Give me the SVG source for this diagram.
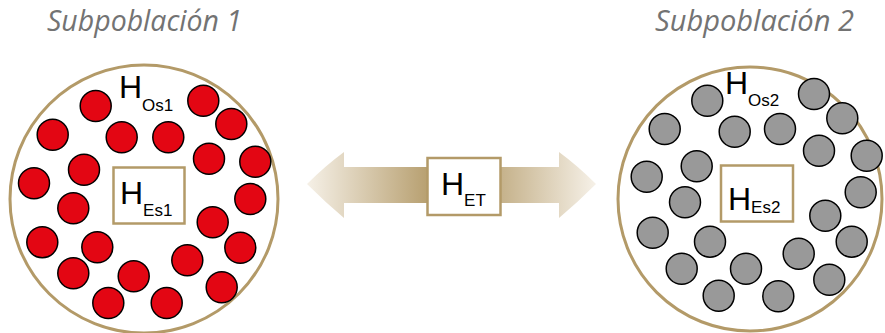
<svg xmlns="http://www.w3.org/2000/svg" width="885" height="333" viewBox="0 0 885 333">
<style>
.pop{fill:#fff;stroke:#b39a68;stroke-width:3}
.box{fill:#fff;stroke:#b39a68;stroke-width:2.5}
.r{fill:#e30613;stroke:#000;stroke-width:1.5}
.g{fill:#999;stroke:#000;stroke-width:1.5}
.t{font-family:"Open Sans","Liberation Sans",sans-serif;font-style:italic;font-size:29px;fill:#737373}
.H{font-family:"Liberation Sans",Arial,sans-serif;font-size:32px;fill:#000}
.s{font-family:"Liberation Sans",Arial,sans-serif;font-size:17px;fill:#000}
</style>
<defs>
<linearGradient id="ag" x1="306" y1="0" x2="596" y2="0" gradientUnits="userSpaceOnUse">
<stop offset="0" stop-color="#f6f1e8"/>
<stop offset="0.45" stop-color="#b39a68"/>
<stop offset="0.55" stop-color="#b39a68"/>
<stop offset="1" stop-color="#f6f1e8"/>
</linearGradient>
</defs>
<text class="t" x="47" y="31" textLength="195" lengthAdjust="spacingAndGlyphs">Subpoblación 1</text>
<text class="t" x="655" y="31" textLength="199" lengthAdjust="spacingAndGlyphs">Subpoblación 2</text>

<g id="connectors">
<path d="M344,152 L344,167 L559,167 L559,152 Q578,166 596,184 Q578,202 559,218 L559,203 L344,203 L344,218 Q325,202 307,184 Q325,166 344,152 Z" fill="url(#ag)"/>
</g>

<g id="subpoblacion1">
<circle class="pop" cx="144" cy="199" r="134"/>
<circle class="r" cx="95.7" cy="106" r="15.5"/>
<circle class="r" cx="52.7" cy="134.7" r="15.5"/>
<circle class="r" cx="121.7" cy="137.3" r="15.5"/>
<circle class="r" cx="168.3" cy="137.3" r="15.5"/>
<circle class="r" cx="203.3" cy="100.7" r="15.5"/>
<circle class="r" cx="231.3" cy="124" r="15.5"/>
<circle class="r" cx="209" cy="158.7" r="15.5"/>
<circle class="r" cx="255.3" cy="161.7" r="15.5"/>
<circle class="r" cx="84" cy="169.7" r="15.5"/>
<circle class="r" cx="34" cy="183.3" r="15.5"/>
<circle class="r" cx="73.3" cy="208.3" r="15.5"/>
<circle class="r" cx="250.3" cy="199" r="15.5"/>
<circle class="r" cx="212.7" cy="222.3" r="15.5"/>
<circle class="r" cx="42.3" cy="242.3" r="15.5"/>
<circle class="r" cx="97.3" cy="247.3" r="15.5"/>
<circle class="r" cx="240.3" cy="247.7" r="15.5"/>
<circle class="r" cx="187.3" cy="260.3" r="15.5"/>
<circle class="r" cx="73.3" cy="273.3" r="15.5"/>
<circle class="r" cx="133.7" cy="276.3" r="15.5"/>
<circle class="r" cx="221.7" cy="287.3" r="15.5"/>
<circle class="r" cx="108.3" cy="303" r="15.5"/>
<circle class="r" cx="166.7" cy="303" r="15.5"/>
<text x="119" y="98"><tspan class="H">H</tspan><tspan class="s" dy="12.5">Os1</tspan></text>
</g>
<g id="HEs1">
<rect class="box" x="113.5" y="167.5" width="71" height="56"/>
<text x="120" y="204"><tspan class="H">H</tspan><tspan class="s" dy="12">Es1</tspan></text>
</g>

<g id="HET">
<rect class="box" x="427.5" y="158" width="73" height="57"/>
<text x="441" y="195"><tspan class="H">H</tspan><tspan class="s" dy="10.5">ET</tspan></text>
</g>

<g id="subpoblacion2">
<circle class="pop" cx="750" cy="199" r="132"/>
<circle class="g" cx="707.3" cy="100.7" r="15.5"/>
<circle class="g" cx="664.7" cy="129" r="15.5"/>
<circle class="g" cx="734.7" cy="131.7" r="15.5"/>
<circle class="g" cx="780" cy="129" r="15.5"/>
<circle class="g" cx="814" cy="94" r="15.5"/>
<circle class="g" cx="842.3" cy="118.3" r="15.5"/>
<circle class="g" cx="819" cy="150.7" r="15.5"/>
<circle class="g" cx="866.7" cy="155.7" r="15.5"/>
<circle class="g" cx="696.7" cy="166.3" r="15.5"/>
<circle class="g" cx="646.7" cy="176.7" r="15.5"/>
<circle class="g" cx="685" cy="202.3" r="15.5"/>
<circle class="g" cx="860.7" cy="192.3" r="15.5"/>
<circle class="g" cx="825.3" cy="215.7" r="15.5"/>
<circle class="g" cx="652.7" cy="232.7" r="15.5"/>
<circle class="g" cx="710" cy="241.7" r="15.5"/>
<circle class="g" cx="851.7" cy="241.7" r="15.5"/>
<circle class="g" cx="798.7" cy="253.7" r="15.5"/>
<circle class="g" cx="681.7" cy="268.7" r="15.5"/>
<circle class="g" cx="746" cy="268.7" r="15.5"/>
<circle class="g" cx="829.3" cy="279.7" r="15.5"/>
<circle class="g" cx="718.7" cy="295.7" r="15.5"/>
<circle class="g" cx="778.3" cy="296.3" r="15.5"/>
<text x="725" y="94"><tspan class="H">H</tspan><tspan class="s" dy="11.5">Os2</tspan></text>
</g>
<g id="HEs2">
<rect class="box" x="721" y="165.5" width="72" height="56"/>
<text x="728" y="210"><tspan class="H">H</tspan><tspan class="s" dy="3">Es2</tspan></text>
</g>
</svg>
